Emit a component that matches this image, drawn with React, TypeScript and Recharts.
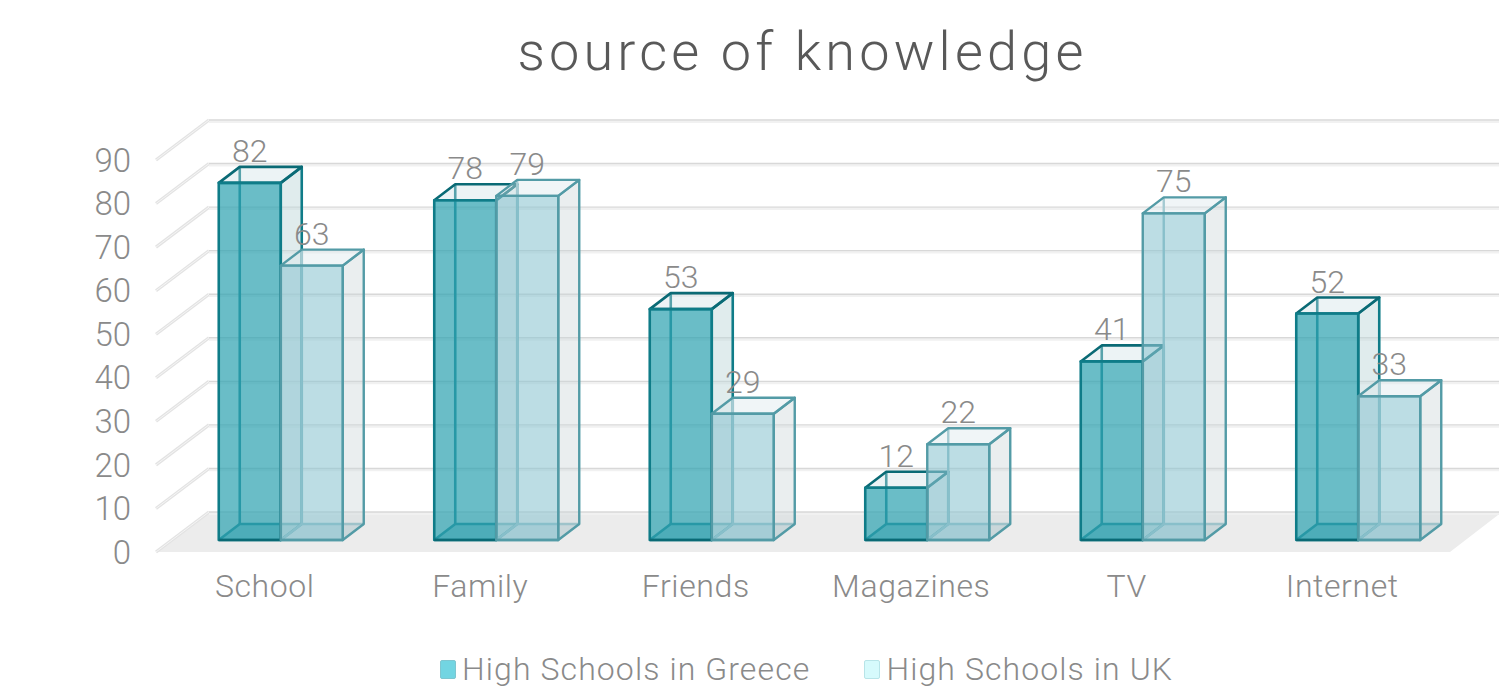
import React from 'react';
import { BarChart, Bar, XAxis, YAxis, CartesianGrid, Legend, LabelList } from 'recharts';

const categories = ['School', 'Family', 'Friends', 'Magazines', 'TV', 'Internet'];
const greece = [82, 78, 53, 12, 41, 52];
const uk = [63, 79, 29, 22, 75, 33];
const yTicks = [0, 10, 20, 30, 40, 50, 60, 70, 80, 90];

const chartData = categories.map((name, i) => ({ name, greece: greece[i], uk: uk[i] }));

const FONT = 'Roboto, "Open Sans", sans-serif';

// Depth of the chart's floor and walls
const WALL_DX = 52;
const WALL_DY = 40;
// Depth of each box, and how far boxes sit inside the floor
const BOX_DX = 21;
const BOX_DY = 16;
const BOX_SHIFT_X = 16;
const BOX_SHIFT_Y = -12;

const GREECE_STYLE = {
  front: 'rgba(48,163,178,0.72)',
  side: 'rgba(190,215,218,0.48)',
  top: 'rgba(205,224,230,0.38)',
  bottom: 'rgba(48,150,165,0.45)',
  edge: '#0f7c88',
  edgeBack: '#0f7c88',
  edgeDark: '#0a6a75',
  width: 2.6,
};
const UK_STYLE = {
  front: 'rgba(143,198,210,0.6)',
  side: 'rgba(205,214,216,0.42)',
  top: 'rgba(220,232,235,0.42)',
  bottom: 'rgba(143,185,195,0.4)',
  edge: '#539ba6',
  edgeBack: '#7db5bf',
  edgeDark: '#539ba6',
  width: 2.4,
};

const Box3D = (props: any) => {
  const s = props.palette;
  const x = props.x + BOX_SHIFT_X;
  const y = props.y + BOX_SHIFT_Y;
  const w = props.width;
  const h = props.height;
  const r = x + w;
  const b = y + h;
  const pts = (...p: number[][]) => p.map(q => q.join(',')).join(' ');
  return (
    <g strokeWidth={s.width} strokeLinejoin="round">
      {/* floor of the box and hidden edges */}
      <polygon points={pts([x, b], [r, b], [r + BOX_DX, b - BOX_DY], [x + BOX_DX, b - BOX_DY])} fill={s.bottom} stroke="none" />
      <polyline points={pts([x, b], [x + BOX_DX, b - BOX_DY], [r + BOX_DX, b - BOX_DY])} fill="none" stroke={s.edgeBack} />
      <line x1={x + BOX_DX} y1={b - BOX_DY} x2={x + BOX_DX} y2={y - BOX_DY} stroke={s.edgeBack} />
      {/* side and top faces */}
      <polygon points={pts([r, y], [r + BOX_DX, y - BOX_DY], [r + BOX_DX, b - BOX_DY], [r, b])} fill={s.side} stroke={s.edge} />
      <polygon points={pts([x, y], [x + BOX_DX, y - BOX_DY], [r + BOX_DX, y - BOX_DY], [r, y])} fill={s.top} stroke={s.edgeDark} />
      {/* front face */}
      <rect x={x} y={y} width={w} height={h} fill={s.front} stroke={s.edge} />
      <line x1={x} y1={b} x2={r} y2={b} stroke={s.edgeDark} />
    </g>
  );
};

const ValueLabel = (props: any) => (
  <text
    x={props.x + BOX_SHIFT_X + props.width / 2}
    y={props.y + BOX_SHIFT_Y - 21}
    textAnchor="middle"
    fontFamily={FONT}
    fontWeight={300}
    fontSize={32}
    fill="#8a8a8a"
  >
    {props.value}
  </text>
);

// One grid line runs along the left wall and then across the back wall
const WallLine = (props: any) => {
  const { x1, x2, y1, index } = props;
  const left = x1 - 1;
  const side = `M${left},${y1} L${x1 + WALL_DX},${y1 - WALL_DY}`;
  const back = `M${x1 + WALL_DX},${y1 - WALL_DY} L${x2 + WALL_DX},${y1 - WALL_DY}`;
  return (
    <g fill="none">
      {index === 0 && (
        <polygon
          points={`${left},${y1} ${x1 + WALL_DX},${y1 - WALL_DY} ${x2 + WALL_DX},${y1 - WALL_DY} ${x2},${y1}`}
          fill="#ececec"
        />
      )}
      <path d={side} stroke="#e3e3e3" strokeWidth={3.2} />
      <path d={side} stroke="#f5f5f5" strokeWidth={1} />
      <path d={back} transform="translate(0,1.8)" stroke="#f1f1f1" strokeWidth={2.2} />
      <path d={back} stroke="#d8d8d8" strokeWidth={1.4} />
    </g>
  );
};

const LegendRow = ({ payload }: any) => (
  <div style={{ display: 'flex', gap: 54, fontFamily: FONT, fontWeight: 300, fontSize: 32, letterSpacing: 1.1, color: '#8a8a8a', lineHeight: '34px' }}>
    {(payload || []).map((entry: any) => (
      <div key={entry.value} style={{ display: 'flex', alignItems: 'center', gap: 6, whiteSpace: 'nowrap' }}>
        <span style={{
          boxSizing: 'border-box',
          width: 16,
          height: 19,
          background: entry.color,
          border: `1.5px solid ${entry.payload?.stroke || entry.color}`,
          borderRadius: 2,
        }} />
        <span>{entry.value}</span>
      </div>
    ))}
  </div>
);

export default function App() {
  return (
    <div style={{ position: 'absolute', left: 0, top: 0, width: 1499, height: 689, overflow: 'hidden', background: '#fff' }}>
      <div style={{
        position: 'absolute',
        left: 0,
        right: 0,
        top: 20,
        textAlign: 'center',
        paddingLeft: 106,
        fontFamily: FONT,
        fontWeight: 300,
        fontSize: 54,
        letterSpacing: 4.2,
        lineHeight: '64px',
        color: '#595959',
      }}>
        source of knowledge
      </div>
      <BarChart
        width={1499}
        height={689}
        data={chartData}
        barGap={0}
        barCategoryGap={45.75}
        margin={{ top: 160, right: 49, bottom: 0, left: 0 }}
        style={{ position: 'absolute', left: 0, top: 0 }}
      >
        <CartesianGrid vertical={false} horizontal={(p: any) => <WallLine key={p.key} {...p} />} />
        <XAxis
          dataKey="name"
          height={137}
          axisLine={false}
          tickLine={false}
          tickSize={0}
          tickMargin={22}
          interval={0}
          tick={{ fontFamily: FONT, fontWeight: 300, fontSize: 32, letterSpacing: 0.6, fill: '#8a8a8a' }}
        />
        <YAxis
          width={157}
          domain={[0, 90]}
          ticks={yTicks}
          interval={0}
          axisLine={false}
          tickLine={false}
          tickSize={0}
          tickMargin={26}
          tick={{ fontFamily: FONT, fontWeight: 300, fontSize: 33, fill: '#8a8a8a' }}
        />
        <Legend
          layout="horizontal"
          verticalAlign="middle"
          align="center"
          content={<LegendRow />}
          wrapperStyle={{ position: 'absolute', left: 440, top: 652, width: 800, height: 34 }}
        />
        <Bar
          dataKey="greece"
          name="High Schools in Greece"
          fill="#72d5e2"
          stroke="#7fc6d0"
          isAnimationActive={false}
          shape={(p: any) => <Box3D {...p} palette={GREECE_STYLE} />}
        >
          <LabelList dataKey="greece" content={<ValueLabel />} />
        </Bar>
        <Bar
          dataKey="uk"
          name="High Schools in UK"
          fill="#d6fafc"
          stroke="#b8e4e8"
          isAnimationActive={false}
          shape={(p: any) => <Box3D {...p} palette={UK_STYLE} />}
        >
          <LabelList dataKey="uk" content={<ValueLabel />} />
        </Bar>
      </BarChart>
    </div>
  );
}
